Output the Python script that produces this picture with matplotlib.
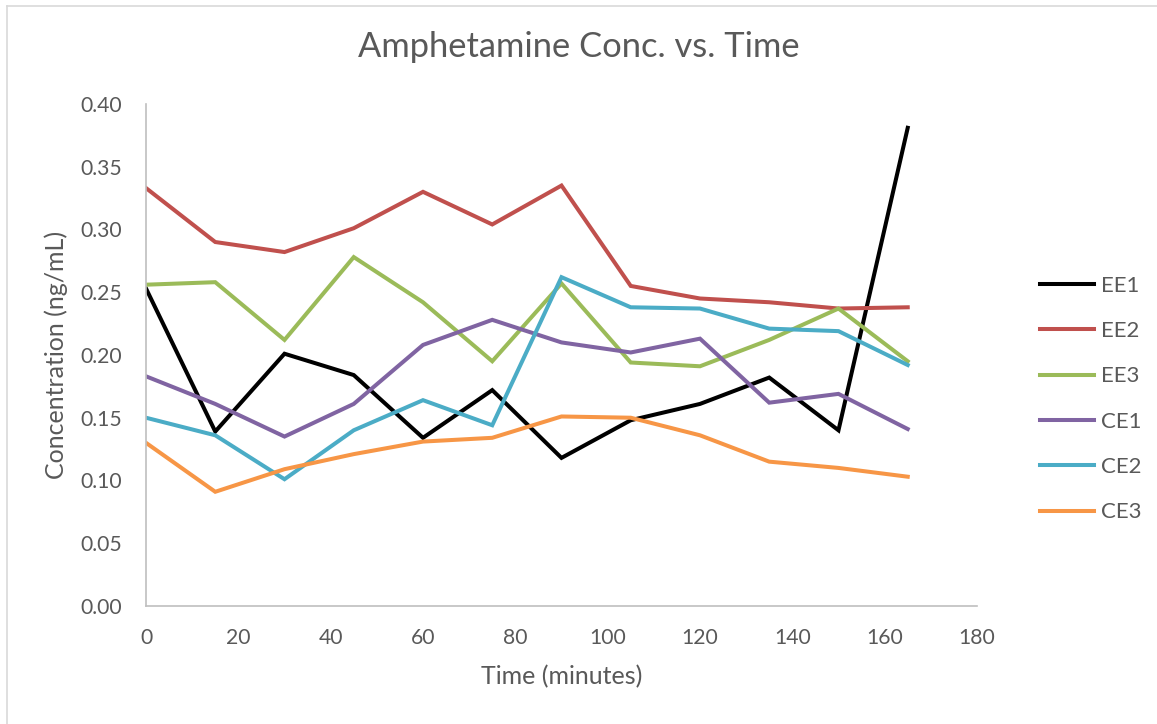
import numpy as np
import matplotlib
matplotlib.use('Agg')
import matplotlib.pyplot as plt
from matplotlib.lines import Line2D

# sampling times (minutes)
time = [0, 15, 30, 45, 60, 75, 90, 105, 120, 135, 150, 165]

ee1 = [0.253, 0.139, 0.201, 0.184, 0.134, 0.172, 0.118, 0.148, 0.161, 0.182, 0.140, 0.381]
ee2 = [0.333, 0.290, 0.282, 0.301, 0.330, 0.304, 0.335, 0.255, 0.245, 0.242, 0.237, 0.238]
ee3 = [0.256, 0.258, 0.212, 0.278, 0.242, 0.195, 0.257, 0.194, 0.191, 0.212, 0.237, 0.195]
ce1 = [0.183, 0.161, 0.135, 0.161, 0.208, 0.228, 0.210, 0.202, 0.213, 0.162, 0.169, 0.141]
ce2 = [0.150, 0.136, 0.101, 0.140, 0.164, 0.144, 0.262, 0.238, 0.237, 0.221, 0.219, 0.192]
ce3 = [0.130, 0.091, 0.109, 0.121, 0.131, 0.134, 0.151, 0.150, 0.136, 0.115, 0.110, 0.103]

names = ['EE1', 'EE2', 'EE3', 'CE1', 'CE2', 'CE3']
colors = ['#000000', '#C0504D', '#9BBB59', '#8064A2', '#4BACC6', '#F79646']

plt.rcParams['font.family'] = ['Lato', 'DejaVu Sans']
txt = '#595959'

fig = plt.figure(figsize=(11.57, 7.24), dpi=100)
ax = fig.add_axes([0.1262, 0.163, 0.7182, 0.6934])

# chart-area border (only top and left edges are visible in the crop)
bx, by = 6.5 / 1157, 1 - 5.5 / 724
fig.add_artist(Line2D([bx, 1], [by, by], color='#D9D9D9', lw=1.2, transform=fig.transFigure))
fig.add_artist(Line2D([bx, bx], [0, by], color='#D9D9D9', lw=1.2, transform=fig.transFigure))

for y, n, c in zip([ee1, ee2, ee3, ce1, ce2, ce3], names, colors):
    ax.plot(time, y, color=c, lw=2.9, label=n, solid_joinstyle='miter')

ax.set_xlim(0, 180)
ax.set_ylim(0, 0.40)
ax.set_xticks(np.arange(0, 181, 20))
ax.set_yticks(np.arange(0, 0.401, 0.05))
ax.set_yticklabels(['%.2f' % v for v in np.arange(0, 0.401, 0.05)])
ax.tick_params(length=0, labelsize=15.2, colors=txt)
ax.tick_params(axis='y', pad=17)
ax.tick_params(axis='x', pad=16)
for s in ['top', 'right']:
    ax.spines[s].set_visible(False)
for s in ['left', 'bottom']:
    ax.spines[s].set_color('#BFBFBF')
    ax.spines[s].set_linewidth(1.2)

ax.set_xlabel('Time (minutes)', fontsize=18, color=txt, labelpad=12)
ax.set_ylabel('Concentration (ng/mL)', fontsize=18, color=txt, labelpad=9)
fig.text(0.5, 0.935, 'Amphetamine Conc. vs. Time', fontsize=24.8, color=txt,
         ha='center', va='center')

ax.legend(loc='center left', bbox_to_anchor=(1.052, 0.412), frameon=False,
          fontsize=16, labelcolor=txt, handlelength=2.43, handletextpad=0.3,
          labelspacing=1.14)

fig.savefig('out.png', dpi=100)
